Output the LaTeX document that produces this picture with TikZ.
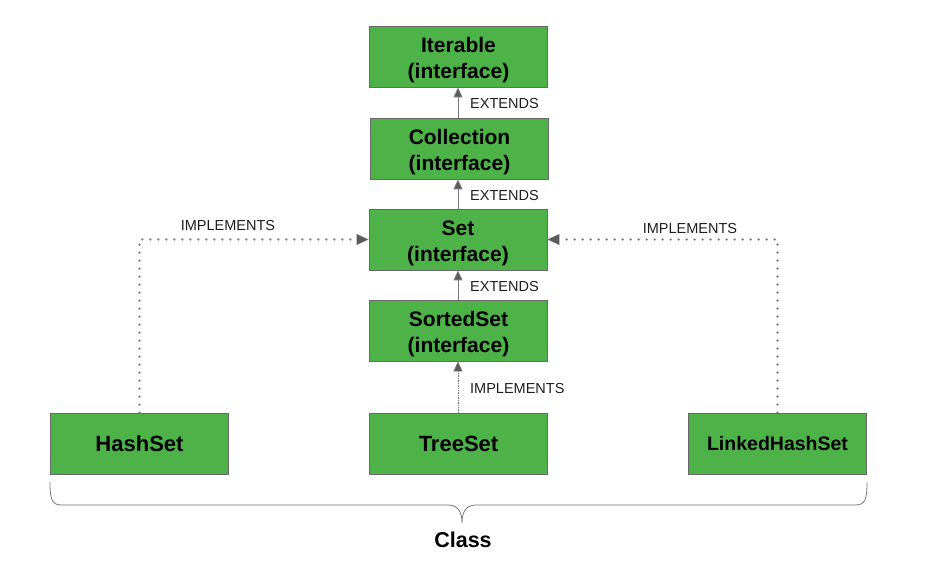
\documentclass[tikz,border=0pt]{standalone}
\usepackage{fontspec}
\setmainfont{Liberation Sans}
\usetikzlibrary{arrows.meta}
\definecolor{boxgreen}{RGB}{77,178,72}
\definecolor{boxedge}{RGB}{105,105,105}
\definecolor{linegray}{RGB}{120,120,120}
\definecolor{tipgray}{RGB}{90,90,90}
\definecolor{txt}{RGB}{30,30,30}
\newcommand\mytopgap{\rule{0pt}{21.5pt}}
\begin{document}
\begin{tikzpicture}[x=1pt,y=-1pt,
  box/.style={draw=boxedge,line width=0.8pt,fill=boxgreen,minimum width=178pt,minimum height=61pt,inner sep=0pt,align=center,font=\fontsize{21}{26}\selectfont\bfseries,text=black},
  lbl/.style={font=\fontsize{14.5}{16}\selectfont,text=txt,inner sep=0pt},
  ext/.style={draw=linegray,line width=1pt,-{Triangle[length=10pt,width=9pt,fill=tipgray]}},
  impl/.style={draw=linegray,line width=2.5pt,line cap=round,dash pattern=on 0pt off 8pt,-{Triangle[length=12pt,width=11pt,fill=tipgray,line width=0.5pt]}},
  impl2/.style={draw=linegray,line width=0.7pt,densely dotted,-{Triangle[length=10pt,width=9pt,fill=tipgray]}}]
\useasboundingbox (0,0) rectangle (931,571);
\node[box] (iter) at (458.5,56.5) {\mytopgap Iterable\\(interface)};
\node[box] (coll) at (459.5,148.5) {\mytopgap Collection\\(interface)};
\node[box] (set) at (458,239.5) {\mytopgap Set\\(interface)};
\node[box] (sorted) at (458.5,330.5) {\mytopgap SortedSet\\(interface)};
\node[box,font=\fontsize{22}{26}\selectfont\bfseries] (hash) at (139.5,443.5) {HashSet};
\node[box,font=\fontsize{22}{26}\selectfont\bfseries] (tree) at (458.5,443.5) {TreeSet};
\node[box,font=\fontsize{19.5}{24}\selectfont\bfseries] (linked) at (777.5,443.5) {LinkedHashSet};
\draw[ext] (coll.north -| 458,0) -- (iter.south -| 458,0);
\draw[ext] (set.north -| 458,0) -- (coll.south -| 458,0);
\draw[ext] (sorted.north -| 458,0) -- (set.south -| 458,0);
\draw[impl2] (tree.north -| 458,0) -- (sorted.south -| 458,0);
\draw[impl] (hash.north) |- (set.west);
\draw[impl] (linked.north) |- (set.east);
\node[lbl,anchor=west] (e1) at (470,104) {EXTENDS};
\node[lbl,anchor=west] (e2) at (470,196) {EXTENDS};
\node[lbl,anchor=west] (e3) at (470,287) {EXTENDS};
\node[lbl] (i1) at (228,226) {IMPLEMENTS};
\node[lbl] (i2) at (690,229) {IMPLEMENTS};
\node[lbl,anchor=west] (i3) at (470,388) {IMPLEMENTS};
\coordinate (bl) at (50,482);
\coordinate (br) at (867,482);
\coordinate (tip) at (462,523);
\draw[draw=linegray,line width=0.8pt] (bl) .. controls (50,500) and (52,505) .. (62,505) -- (448,505) .. controls (458,505) and (462,512) .. (tip)
  .. controls (462,512) and (466,505) .. (476,505) -- (855,505) .. controls (865,505) and (867,500) .. (br);
\node[font=\fontsize{21.5}{24}\selectfont\bfseries,inner sep=0pt] (cls) at (463,540) {Class};
\end{tikzpicture}
\end{document}
